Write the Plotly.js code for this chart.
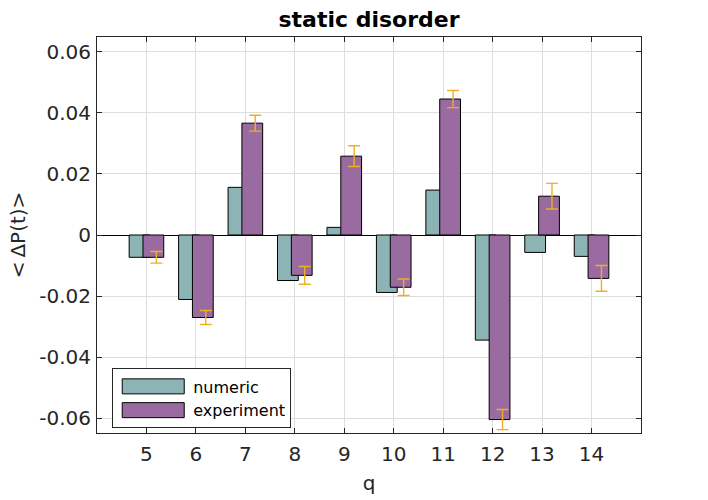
<!DOCTYPE html>
<html>
<head>
<meta charset="utf-8">
<script src="https://cdn.plot.ly/plotly-3.0.1.min.js"></script>
<style>html,body{margin:0;padding:0;background:#fff;}#chart{width:708px;height:500px;}</style>
</head>
<body>
<div id="chart"></div>
<script>
const q = [5, 6, 7, 8, 9, 10, 11, 12, 13, 14];
const numeric = [-0.0073, -0.0211, 0.0156, -0.0149, 0.0025, -0.0188, 0.0147, -0.0344, -0.0057, -0.0070];
const experiment = [-0.0073, -0.0270, 0.0366, -0.0132, 0.0258, -0.0171, 0.0445, -0.0604, 0.0127, -0.0142];
const experimentErr = [0.0019, 0.0023, 0.0026, 0.0029, 0.0034, 0.0027, 0.0028, 0.0033, 0.0042, 0.0042];
const yTickVals = [-0.06, -0.04, -0.02, 0, 0.02, 0.04, 0.06];
const yTickText = ['-0.06', '-0.04', '-0.02', '0', '0.02', '0.04', '0.06'];

const axisColor = '#262626';
const font = 'DejaVu Sans, sans-serif';

const traces = [
  {
    type: 'bar', name: 'numeric', x: q, y: numeric,
    offset: -0.35, width: 0.42,
    marker: {color: '#8DB4B4', line: {color: '#000', width: 1}}
  },
  {
    type: 'bar', name: 'experiment', x: q, y: experiment,
    offset: -0.07, width: 0.42,
    marker: {color: '#9A6BA0', line: {color: '#000', width: 1}}
  },
  {
    type: 'scatter', mode: 'markers', showlegend: false, hoverinfo: 'skip',
    x: q.map(v => v + 0.2), y: experiment,
    marker: {size: 1, opacity: 0},
    error_y: {type: 'data', array: experimentErr, visible: true, color: '#EDB120', thickness: 1.4, width: 6}
  }
];

const layout = {
  width: 708, height: 500,
  margin: {l: 97, r: 67, t: 37, b: 67, pad: 0},
  paper_bgcolor: '#fff', plot_bgcolor: '#fff',
  barmode: 'overlay',
  font: {family: font, color: axisColor},
  title: {
    text: '<b>static disorder</b>', font: {family: font, size: 22, color: '#000'},
    x: 0.5, xref: 'paper', y: 0.962, yref: 'container', yanchor: 'middle'
  },
  xaxis: {
    range: [4, 15], tickvals: q, ticks: 'inside', ticklen: 5, tickcolor: axisColor,
    showline: true, linecolor: axisColor, linewidth: 1, mirror: 'ticks',
    showgrid: true, gridcolor: '#dedede', zeroline: false,
    tickfont: {family: font, size: 20, color: axisColor}, ticklabelstandoff: 3,
    title: {text: 'q', font: {family: font, size: 20, color: axisColor}, standoff: 10}
  },
  yaxis: {
    range: [-0.0648, 0.0648], tickvals: yTickVals, ticktext: yTickText,
    ticks: 'inside', ticklen: 5, tickcolor: axisColor,
    showline: true, linecolor: axisColor, linewidth: 1, mirror: 'ticks',
    showgrid: true, gridcolor: '#dedede',
    zeroline: true, zerolinecolor: '#000', zerolinewidth: 1,
    tickfont: {family: font, size: 20, color: axisColor}, ticklabelstandoff: 1,
    title: {text: '<\u2009ΔP(t)>', font: {family: font, size: 20, color: axisColor}, standoff: 8}
  },
  legend: {
    x: 0.028, y: 0.163, xanchor: 'left', yanchor: 'top',
    bgcolor: '#fff', bordercolor: axisColor, borderwidth: 1,
    font: {family: font, size: 16, color: '#000'},
    tracegroupgap: 0, itemwidth: 70
  },
  showlegend: true
};

Plotly.newPlot('chart', traces, layout, {staticPlot: true, displayModeBar: false}).then(function (gd) {
  // enlarge legend swatches to MATLAB-like wide rectangles
  gd.querySelectorAll('.legend .traces .legendpoints path').forEach(function (p) {
    p.setAttribute('d', 'M-31,-7.5H31V7.5H-31Z');
  });
});
</script>
</body>
</html>
